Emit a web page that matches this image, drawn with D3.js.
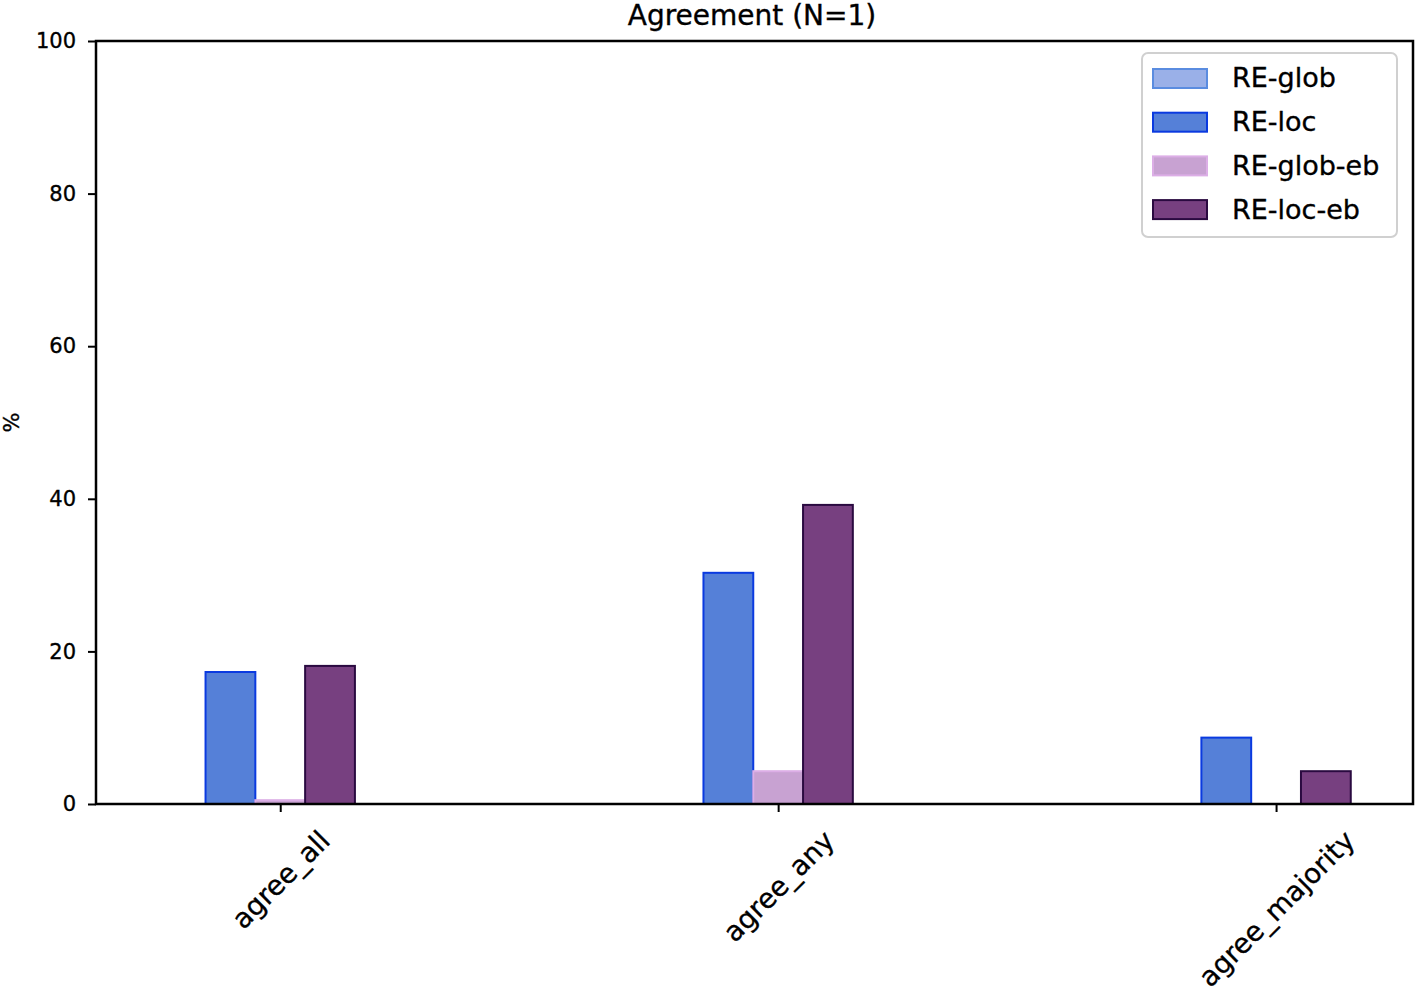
<!DOCTYPE html>
<html>
    <head>
        <script src="https://d3js.org/d3.v7.min.js"></script>
        <style>
            body { margin: 0; background: #fff; font-family: "DejaVu Sans", sans-serif; }
            .axis path, .axis line { stroke: #000; }
            text { stroke: #000; stroke-width: 0.35px; }
        </style>
    </head>
    <body>
        <div id="chart"></div>
    </body>
    <script>
        var categories = ["agree_all", "agree_any", "agree_majority"];
        var seriesNames = ["RE-glob", "RE-loc", "RE-glob-eb", "RE-loc-eb"];
        var reGlob = [0, 0, 0];
        var reLoc = [17.3, 30.3, 8.7];
        var reGlobEb = [0.5, 4.3, 0];
        var reLocEb = [18.1, 39.2, 4.3];
        var yTicks = [0, 20, 40, 60, 80, 100];

        var seriesValues = [reGlob, reLoc, reGlobEb, reLocEb];
        var fills = ["#9ab0e8", "#5580d8", "#c8a2d2", "#774080"];
        var strokes = ["#5a8ce0", "#0a3ae0", "#dcaee6", "#2a0a40"];

        var width = 1416, height = 994;
        var margin = {top: 41, right: 3, bottom: 190, left: 96};
        var barW = 0.1;

        var svg = d3.select("#chart").append("svg")
            .attr("width", width)
            .attr("height", height);

        var x = d3.scaleLinear().domain([-0.37, 2.275]).range([margin.left, width - margin.right]);
        var y = d3.scaleLinear().domain([0, 100]).range([height - margin.bottom, margin.top]);

        // bars
        seriesValues.forEach(function(vals, s) {
            svg.append("g").selectAll("rect")
                .data(vals)
                .enter().append("rect")
                .attr("x", function(d, i) { return x(i + (s - 2) * barW - barW / 2); })
                .attr("width", x(barW) - x(0))
                .attr("y", function(d) { return y(d); })
                .attr("height", function(d) { return y(0) - y(d); })
                .style("fill", fills[s])
                .style("stroke", d => d > 0 ? strokes[s] : "none")
                .style("stroke-width", 2);
        });

        // frame
        svg.append("rect")
            .attr("x", x.range()[0]).attr("y", y(100))
            .attr("width", x.range()[1] - x.range()[0])
            .attr("height", y(0) - y(100))
            .style("fill", "none").style("stroke", "#000").style("stroke-width", 2.5);

        var yAxis = d3.axisLeft(y).tickValues(yTicks).tickSize(8).tickPadding(12);
        var gy = svg.append("g").attr("class", "axis")
            .attr("transform", "translate(" + margin.left + ",0)")
            .call(yAxis);
        gy.select(".domain").remove();
        gy.selectAll("text").style("font-size", "21px").style("font-family", "DejaVu Sans");
        gy.selectAll("line").style("stroke-width", 2);

        var xAxis = d3.axisBottom(x).tickValues([0, 1, 2]).tickFormat(function(d) { return categories[d]; }).tickSize(8);
        var gx = svg.append("g").attr("class", "axis")
            .attr("transform", "translate(0," + y(0) + ")")
            .call(xAxis);
        gx.select(".domain").remove();
        gx.selectAll("line").style("stroke-width", 2);
        gx.selectAll("text")
            .style("font-size", "27.5px").style("font-family", "DejaVu Sans")
            .attr("text-anchor", "middle")
            .attr("dy", "0.35em")
            .attr("transform", function() {
                var len = this.getComputedTextLength();
                var cy = 22 + (len + 27) * 0.707 / 2;
                return "translate(0," + cy + ") rotate(-45)";
            })
            .attr("y", 0);

        // title and label
        svg.append("text")
            .attr("x", 752).attr("y", 25)
            .attr("text-anchor", "middle")
            .style("font-size", "28px")
            .text("Agreement (N=1)");

        svg.append("text")
            .attr("transform", "translate(19," + (y(0) + y(100)) / 2 + ") rotate(-90)")
            .attr("text-anchor", "middle")
            .style("font-size", "21px")
            .text("%");

        // legend
        var leg = svg.append("g").attr("transform", "translate(1142,53)");
        leg.append("rect")
            .attr("width", 255).attr("height", 184).attr("rx", 6)
            .style("fill", "#fff").style("fill-opacity", 0.8)
            .style("stroke", "#d0d0d0").style("stroke-width", 2);
        seriesNames.forEach(function(name, i) {
            var cy = 25 + i * 43.7;
            leg.append("rect")
                .attr("x", 11).attr("y", cy - 9)
                .attr("width", 54).attr("height", 19)
                .style("fill", fills[i]).style("stroke", strokes[i]).style("stroke-width", 2);
            leg.append("text")
                .attr("x", 90).attr("y", cy)
                .attr("dy", "0.35em")
                .style("font-size", "27px")
                .text(name);
        });
    </script>
</html>
